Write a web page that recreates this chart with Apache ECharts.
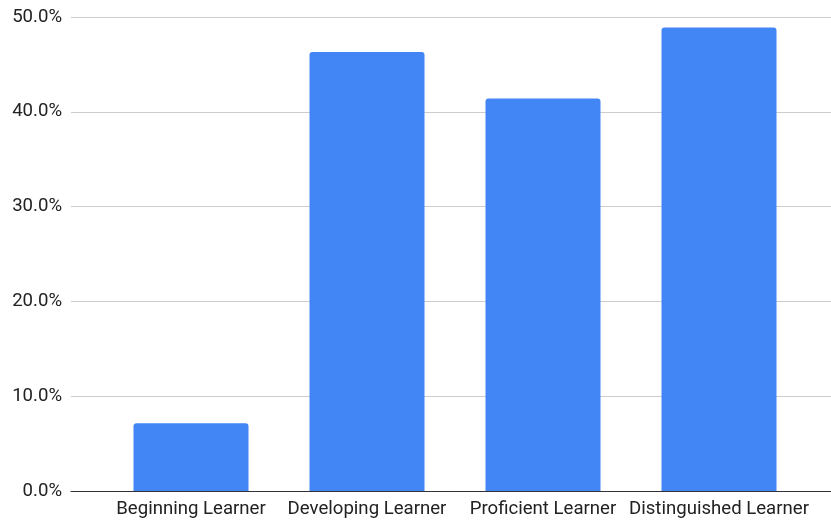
<!DOCTYPE html>
<html>
<head>
<meta charset="utf-8">
<script src="https://cdn.jsdelivr.net/npm/echarts@6/dist/echarts.min.js"></script>
<style>html,body{margin:0;padding:0;background:#fff}#c{width:831px;height:522px}</style>
</head>
<body>
<div id="c"></div>
<script>
const categories = ["Beginning Learner", "Developing Learner", "Proficient Learner", "Distinguished Learner"];
const values = [7.15, 46.3, 41.4, 48.9];
const yTicks = [0, 10, 20, 30, 40, 50];

const chart = echarts.init(document.getElementById('c'), null, {renderer: 'canvas'});
const font = 'Roboto, "Liberation Sans", Arial, sans-serif';
chart.setOption({
  animation: false,
  grid: [
    {left: 71, right: 0, top: 17, bottom: 31},
    {left: 103, right: 24, top: 17, bottom: 31}
  ],
  xAxis: [
    {gridIndex: 0, type: 'value', min: 0, max: 1, axisLine: {show: true, onZero: false, lineStyle: {color: '#333', width: 1}},
     axisTick: {show: false}, axisLabel: {show: false}, splitLine: {show: false}},
    {gridIndex: 1, type: 'category', data: categories, axisLine: {show: false}, axisTick: {show: false},
     axisLabel: {color: '#222', fontFamily: font, fontSize: 18.6, margin: 9, interval: 0}}
  ],
  yAxis: [
    {gridIndex: 0, type: 'value', min: yTicks[0], max: yTicks[yTicks.length - 1], interval: 10,
     axisLine: {show: false}, axisTick: {show: false},
     axisLabel: {color: '#222', fontFamily: font, fontSize: 18.6, margin: 9, formatter: v => v.toFixed(1) + '%'},
     splitLine: {show: true, lineStyle: {color: '#ccc', width: 1}}},
    {gridIndex: 1, type: 'value', min: yTicks[0], max: yTicks[yTicks.length - 1], interval: 10, show: false}
  ],
  series: [{
    type: 'bar', xAxisIndex: 1, yAxisIndex: 1, data: values, barWidth: 115,
    itemStyle: {color: '#4285F4', borderRadius: [3, 3, 0, 0]}
  }]
});
</script>
</body>
</html>
